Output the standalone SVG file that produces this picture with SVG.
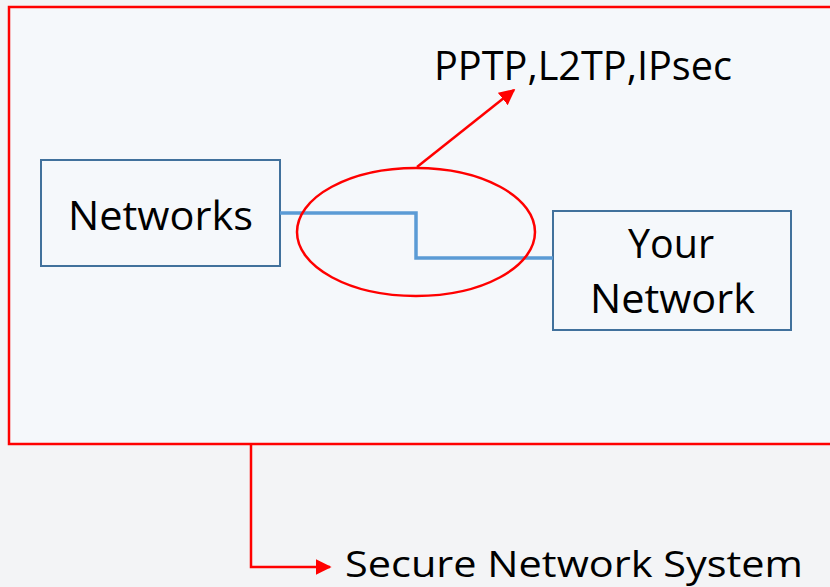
<svg xmlns="http://www.w3.org/2000/svg" width="830" height="587" viewBox="0 0 830 587">
<style>
.t{font-family:"Open Sans","Noto Sans","Liberation Sans",sans-serif;fill:#000;font-size:40px}
.box{fill:none;stroke:#41719c;stroke-width:2}
.red{fill:none;stroke:#ff0000;stroke-width:2.5}
</style>
<defs>
<marker id="ah2" viewBox="0 0 10 10" refX="9" refY="5" markerWidth="16" markerHeight="16" orient="auto" markerUnits="userSpaceOnUse">
<path d="M0,0 L10,5 L0,10 z" fill="#ff0000"/>
</marker>
</defs>
<rect width="830" height="587" fill="#f3f4f6"/>
<g id="system">
<rect x="9" y="7" width="830" height="437" fill="#f5f8fb" stroke="#ff0000" stroke-width="2.5"/>
</g>
<g id="networks">
<rect x="41" y="160" width="239" height="106" fill="#f5f8fb" class="box"/>
<text class="t" x="68" y="230" textLength="185" lengthAdjust="spacingAndGlyphs">Networks</text>
</g>
<g id="your-network">
<rect x="553" y="211" width="238" height="119" fill="#f5f8fb" class="box"/>
<text class="t" x="628" y="258" textLength="86" lengthAdjust="spacingAndGlyphs">Your</text>
<text class="t" x="590" y="313" textLength="165" lengthAdjust="spacingAndGlyphs">Network</text>
</g>
<g id="protocols">
<text class="t" x="434" y="80" textLength="298" lengthAdjust="spacingAndGlyphs">PPTP,L2TP,IPsec</text>
</g>
<g id="secure-label">
<text class="t" x="345" y="577" style="font-size:36px" textLength="458" lengthAdjust="spacingAndGlyphs">Secure Network System</text>
</g>
<g id="connectors">
<polyline points="280,213 416,213 416,258 553,258" fill="none" stroke="#5b9bd5" stroke-width="3.5"/>
<ellipse cx="416" cy="232" rx="119" ry="64" class="red"/>
<line x1="417" y1="167" x2="514" y2="90" class="red" marker-end="url(#ah2)"/>
<polyline points="251,444 251,567 330,567" class="red" marker-end="url(#ah2)"/>
</g>
</svg>
